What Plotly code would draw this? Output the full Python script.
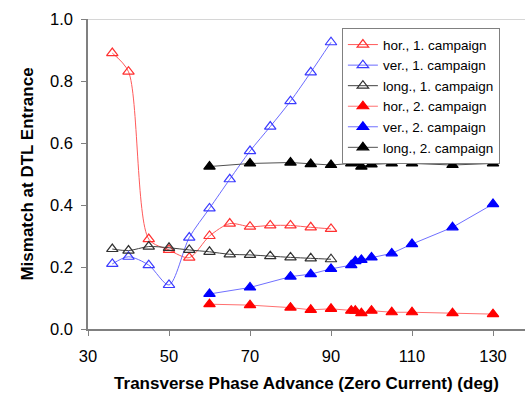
import plotly.graph_objects as go

# Data
x1 = [36, 40, 45, 50, 55, 60, 65, 70, 75, 80, 85, 90]
hor1 = [0.89, 0.83, 0.29, 0.255, 0.23, 0.30, 0.34, 0.33, 0.334, 0.334, 0.328, 0.323]
ver1 = [0.21, 0.233, 0.206, 0.142, 0.295, 0.389, 0.483, 0.574, 0.653, 0.735, 0.828, 0.925]
long1 = [0.258, 0.253, 0.266, 0.262, 0.255, 0.249, 0.241, 0.239, 0.235, 0.231, 0.228, 0.225]

x2 = [60, 70, 80, 85, 90, 95, 96, 97.5, 100, 105, 110, 120, 130]
hor2 = [0.080, 0.077, 0.069, 0.062, 0.065, 0.059, 0.059, 0.051, 0.059, 0.054, 0.054, 0.051, 0.048]
ver2 = [0.113, 0.134, 0.169, 0.177, 0.194, 0.206, 0.219, 0.223, 0.231, 0.244, 0.274, 0.328, 0.403]
long2 = [0.524, 0.534, 0.537, 0.532, 0.529, 0.534, 0.537, 0.524, 0.531, 0.534, 0.534, 0.529, 0.534]

x_ticks = [30, 50, 70, 90, 110, 130]
y_ticks = [0.0, 0.2, 0.4, 0.6, 0.8, 1.0]

FONT = "Liberation Sans, Arial, sans-serif"

fig = go.Figure()

def add(x, y, name, line_color, marker_color, symbol, shape):
    fig.add_trace(go.Scatter(
        x=x, y=y, name=name, mode="lines+markers",
        line=dict(color=line_color, width=1, shape=shape, smoothing=0.8),
        marker=dict(symbol=symbol, size=10, color=marker_color,
                    line=dict(color=marker_color, width=1.2)),
    ))

add(x1, hor1, "hor., 1. campaign", "#FF5A5A", "#FF3030", "triangle-up-open", "spline")
add(x1, ver1, "ver., 1. campaign", "#6A6AFF", "#3A3AFF", "triangle-up-open", "spline")
add(x1, long1, "long., 1. campaign", "#404040", "#303030", "triangle-up-open", "spline")
add(x2, hor2, "hor., 2. campaign", "#FF7070", "#FF0000", "triangle-up", "linear")
add(x2, ver2, "ver., 2. campaign", "#7070FF", "#0000FF", "triangle-up", "linear")
add(x2, long2, "long., 2. campaign", "#505050", "#000000", "triangle-up", "linear")

fig.add_shape(type="line", xref="paper", yref="y", x0=0, x1=1, y0=1.0, y1=1.0,
              line=dict(color="#C8C8C8", width=1.5), layer="below")

fig.update_layout(
    width=525, height=399,
    margin=dict(l=88, r=0, t=19, b=70),
    paper_bgcolor="white", plot_bgcolor="white",
    font=dict(family=FONT, size=16, color="#000000"),
    showlegend=True,
    legend=dict(
        x=0.581, y=0.97, xanchor="left", yanchor="top",
        bgcolor="white", bordercolor="#808080", borderwidth=1,
        font=dict(family=FONT, size=13.5, color="#000000"),
        tracegroupgap=0,
    ),
    xaxis=dict(
        range=[30, 137.9], tickvals=x_ticks, ticktext=[str(v) for v in x_ticks],
        showgrid=False, zeroline=False, showline=True, linecolor="#808080", linewidth=1.5,
        ticks="outside", ticklen=5, tickcolor="#808080",
        tickfont=dict(size=16.5), ticklabelstandoff=6,
        title=dict(text="<b>Transverse Phase Advance (Zero Current) (deg)</b>",
                   font=dict(size=17), standoff=14),
    ),
    yaxis=dict(
        range=[0, 1.0], tickvals=y_ticks, ticktext=[f"{v:.1f}" for v in y_ticks],
        showgrid=False, zeroline=False, showline=True, linecolor="#808080", linewidth=1.5,
        ticks="outside", ticklen=5, tickcolor="#808080",
        tickfont=dict(size=16.5), ticklabelstandoff=5,
        title=dict(text="<b>Mismatch at DTL Entrance</b>", font=dict(size=17), standoff=12),
    ),
)

fig.write_html("out.html")
